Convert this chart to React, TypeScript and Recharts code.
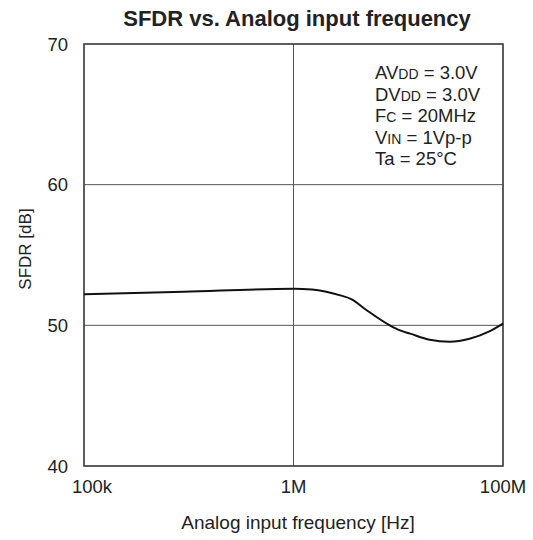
import {
  LineChart,
  Line,
  XAxis,
  YAxis,
  CartesianGrid,
  ReferenceArea,
  Customized,
} from "recharts";

// frequencies in Hz, SFDR in dB
const freqs = [
  100e3, 300e3, 1e6, 1.5e6, 2.8e6, 3.6e6, 5e6, 8.3e6, 10.4e6, 13e6, 20e6, 31e6,
  48e6, 75e6, 100e6,
];
const sfdr = [
  52.2, 52.39, 52.6, 52.55, 52.13, 51.85, 51.07, 50.0, 49.64, 49.41, 48.98,
  48.84, 49.05, 49.59, 50.12,
];

const xTicks = [0, 1, 2];
const xTickLabels = ["100k", "1M", "100M"];
const yTicks = [40, 50, 60, 70];

const conditions = [
  ["AV", "DD", " = 3.0V"],
  ["DV", "DD", " = 3.0V"],
  ["F", "C", " = 20MHz"],
  ["V", "IN", " = 1Vp-p"],
  ["Ta = 25°C", "", ""],
];

// axis is 100k..1M over the first half, 1M..100M over the second half
const toPos = (f: number) =>
  f <= 1e6 ? Math.log10(f / 1e5) : 1 + Math.log10(f / 1e6) / 2;

const data = freqs.map((f, i) => ({ pos: toPos(f), sfdr: sfdr[i] }));

const font = "'Liberation Sans', Arial, sans-serif";

function XTick(props: any) {
  const { x, y, payload } = props;
  const i = xTicks.indexOf(payload.value);
  const dx = i === 0 ? 8 : 0;
  return (
    <text
      x={x + dx}
      y={y}
      dy="0.71em"
      textAnchor="middle"
      fontSize={18.5}
      fontFamily={font}
      fill="#222"
    >
      {xTickLabels[i]}
    </text>
  );
}

function Texts() {
  return (
    <g fontFamily={font} fill="#222">
      <text x={297} y={26} textAnchor="middle" fontSize={22} fontWeight="bold">
        SFDR vs. Analog input frequency
      </text>
      <text
        x={31}
        y={249}
        textAnchor="middle"
        fontSize={17}
        transform="rotate(-90 31 249)"
      >
        SFDR [dB]
      </text>
      <text x={298} y={529} textAnchor="middle" fontSize={19}>
        Analog input frequency [Hz]
      </text>
      {conditions.map((c, i) => (
        <text key={i} x={375} y={79 + i * 21.6} fontSize={18.5}>
          {c[0]}
          {c[1] && <tspan fontSize={14}>{c[1]}</tspan>}
          {c[2]}
        </text>
      ))}
    </g>
  );
}

export default function App() {
  return (
    <div style={{ position: "absolute", left: 0, top: 0, background: "#fff" }}>
      <LineChart
        width={533}
        height={540}
        data={data}
        margin={{ top: 44, right: 30, left: 24, bottom: 44 }}
      >
        <CartesianGrid stroke="#555" strokeWidth={1} />
        <XAxis
          dataKey="pos"
          type="number"
          domain={[0, 2]}
          ticks={xTicks}
          tickLine={false}
          axisLine={false}
          tickMargin={8}
          height={30}
          tick={<XTick />}
        />
        <YAxis
          type="number"
          domain={[40, 70]}
          ticks={yTicks}
          tickLine={false}
          axisLine={false}
          tickMargin={10}
          width={60}
          tick={{ fill: "#222", fontSize: 18.5, fontFamily: font }}
        />
        <ReferenceArea
          x1={0}
          x2={2}
          y1={40}
          y2={70}
          fill="none"
          stroke="#444"
          strokeWidth={1.5}
        />
        <Line
          type="monotone"
          dataKey="sfdr"
          stroke="#111"
          strokeWidth={2}
          dot={false}
          activeDot={false}
          isAnimationActive={false}
        />
        <Customized component={Texts} />
      </LineChart>
    </div>
  );
}
